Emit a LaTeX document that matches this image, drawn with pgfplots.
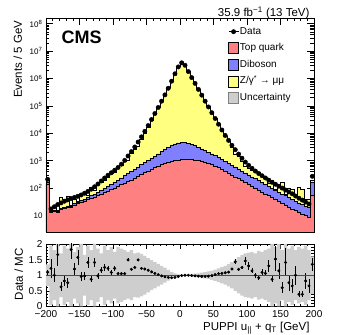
\documentclass[border=0pt]{standalone}
\usepackage{fontspec}
\setmainfont{Liberation Sans}
\usepackage{pgfplots}
\pgfplotsset{compat=1.18}
\usepackage{pgfplotstable}
\usepgfplotslibrary{fillbetween}

\definecolor{topcol}{RGB}{255,128,128}
\definecolor{dibcol}{RGB}{128,128,255}
\definecolor{dycol}{RGB}{255,255,128}
\definecolor{unccol}{RGB}{206,206,206}
\definecolor{oneline}{RGB}{255,0,0}

% x = left edge of the 5 GeV bin; the last row only closes the step at 200
% top, dib, dy: stacked MC components; data: events; r, rerr: data/MC; unc: MC band half width
\pgfplotstableread{
x    top   dib   dy       data     r     rerr  unc
-200 140   26    24       209      1.10  0.08  0.35
-195 12.6  1.2   0.5      17.4     1.22  0.30  0.95
-190 13.8  1.3   5.8      20.9     1.00  0.22  0.80
-185 12.6  1.2   1.3      25.1     1.66  0.35  1.00
-180 16.6  1.6   27.6     28.8     0.63  0.15  0.70
-175 18.2  1.8   20.4     33.1     0.82  0.18  0.95
-170 20.0  2.4   26.5     37.2     0.76  0.16  0.85
-165 19.1  1.8   2.0      41.7     1.82  0.30  1.00
-160 24.0  3.5   10.6     45.7     1.20  0.20  0.75
-155 26.9  4.0   1.0      50.1     1.57  0.24  0.90
-150 30.2  4.5   23.9     56.2     0.96  0.14  1.00
-145 33.9  5.9   26.1     64.6     0.98  0.13  0.65
-140 38.0  7.7   8.1      75.9     1.41  0.18  0.95
-135 42.7  9.8   52.2     91.2     0.87  0.10  0.80
-130 47.9  12.4  19.3     112      1.41  0.15  1.00
-125 53.7  17.1  73       141      0.98  0.09  0.85
-120 60.3  22.9  74       182      1.16  0.10  0.70
-115 67.6  30.1  90       234      1.25  0.10  0.95
-110 75.9  39    127      295      1.22  0.08  0.80
-105 87.1  48    198      363      1.09  0.07  0.90
-100 100   62    204      447      1.22  0.07  0.75
-95  115   80    341      562      1.05  0.06  0.90
-90  132   102   472      741      1.05  0.05  0.85
-85  151   131   693      1023     1.05  0.05  0.80
-80  174   165   654      1479     1.49  0.05  0.75
-75  200   207   1388     2138     1.19  0.03  0.80
-70  234   256   2040     3162     1.25  0.03  0.70
-65  269   320   2625     4786     1.49  0.03  0.72
-60  316   392   5373     7413     1.22  0.02  0.68
-55  363   488   8944     11750    1.20  0.02  0.62
-50  417   606   15420    19050    1.16  0.02  0.55
-45  479   751   27280    31620    1.11  0.02  0.48
-40  550   929   48070    52480    1.06  0.02  0.42
-35  631   1147  83530    87100    1.02  0.02  0.36
-30  708   1430  148900   147900   0.98  0.01  0.30
-25  794   1776  261600   251200   0.95  0.01  0.24
-20  871   2149  466900   436500   0.93  0.01  0.17
-15  955   2593  859500   794300   0.92  0.01  0.11
-10  1023  3051  1588000  1479000  0.93  0.01  0.06
-5   1072  3395  2738000  2630000  0.96  0.01  0.03
0    1096  3475  3745000  3715000  0.99  0.01  0.02
5    1122  3449  3015000  3020000  1.00  0.01  0.02
10   1122  3243  1774000  1778000  1.00  0.01  0.03
15   1096  2885  1078000  1072000  0.99  0.01  0.04
20   1072  2476  670700   660700   0.98  0.01  0.05
25   1023  2067  407300   398100   0.97  0.01  0.06
30   955   1737  253000   245500   0.96  0.01  0.08
35   871   1473  151800   147900   0.96  0.01  0.10
40   794   1248  91980    91200    0.97  0.01  0.12
45   708   1070  55020    56230    0.99  0.01  0.15
50   631   918   32440    34670    1.02  0.01  0.18
55   550   768   19050    21380    1.05  0.01  0.22
60   479   643   11330    13180    1.06  0.01  0.26
65   417   538   6754     8318     1.08  0.02  0.30
70   355   458   4187     5495     1.10  0.02  0.36
75   302   390   2335     3631     1.20  0.03  0.42
80   257   332   1169     2512     1.43  0.08  0.50
85   224   277   958      1738     1.19  0.05  0.58
90   191   226   567      1230     1.25  0.06  0.65
95   162   193   256      891      1.46  0.12  0.70
100  138   164   218      676      1.30  0.12  0.72
105  117   140   203      525      1.14  0.08  0.75
110  100   119   198      417      1.00  0.08  0.70
115  85.1  101   182      339      0.92  0.08  0.78
120  72.4  86    101      282      1.09  0.10  0.75
125  61.7  73    86       234      1.06  0.10  0.80
130  52.5  62    35       195      1.30  0.20  0.85
135  44.7  53    88       162      0.87  0.10  1.00
140  38.0  45    7.6      138      1.52  0.40  0.90
145  32.4  38    32       117      1.14  0.25  1.00
150  27.5  33    107      100      0.60  0.18  0.80
155  23.4  29    7.9      85.1     1.41  0.45  1.00
160  20.0  24.7  50.6     72.4     0.76  0.25  0.85
165  17.4  21.5  54       61.7     0.66  0.22  0.95
170  15.1  18    18.2     51.3     1.00  0.30  0.80
175  13.2  15.6  80       42.7     0.39  0.10  0.90
180  11.5  13.6  68       36.3     0.39  0.10  0.85
185  10.0  11.9  15.8     30.9     0.82  0.25  0.95
190  8.9   10.2  20.7     26.3     0.66  0.22  0.80
195  56.2  102   42       269      1.35  0.20  0.60
200  56.2  102   42       269      1.35  0.20  0.60
}\bins

\begin{document}
\begin{tikzpicture}
\pgfplotsset{
  cmsaxis/.style={
    scale only axis, width=268pt,
    xmin=-200, xmax=200,
    tick align=inside, xtick pos=both, ytick pos=both,
    axis line style={line width=0.6pt},
    every tick/.style={black, line width=0.5pt},
    xtick={-200,-150,...,200}, minor x tick num=4,
    /pgf/number format/assume math mode=true,
    tick label style={font=\fontsize{10}{12}\selectfont},
  },
}
% upper panel: stacked MC and data
\begin{axis}[cmsaxis, name=main, at={(0,0)}, anchor=south west, height=214pt,
  ymode=log, ymin=2.5, ymax=1.6e8,
  xticklabels={},
  ytick={10,100,1000,1e4,1e5,1e6,1e7,1e8},
  yticklabels={10,10\textsuperscript{2},10\textsuperscript{3},10\textsuperscript{4},10\textsuperscript{5},10\textsuperscript{6},10\textsuperscript{7},10\textsuperscript{8}},
  yticklabel style={font=\fontsize{8}{9}\selectfont},
  major tick length=7pt, minor tick length=3.5pt,
  legend style={at={(rel axis cs:0.679,0.965)}, anchor=north west,
    draw=none, fill=none, inner sep=0pt, row sep=4.6pt,
    font=\fontsize{10}{12}\selectfont,
    nodes={inner sep=1pt, text height=7.5pt, text depth=2.5pt}},
  legend cell align=left,
]
\addplot[const plot, fill=dycol, draw=black, line width=0.6pt, forget plot]
  table[x=x, y expr=\thisrow{top}+\thisrow{dib}+\thisrow{dy}] {\bins} \closedcycle;
\addplot[const plot, fill=dibcol, draw=black, line width=0.6pt, forget plot]
  table[x=x, y expr=\thisrow{top}+\thisrow{dib}] {\bins} \closedcycle;
\addplot[const plot, fill=topcol, draw=black, line width=0.6pt, forget plot]
  table[x=x, y=top] {\bins} \closedcycle;
\addplot[only marks, mark=*, mark size=2.2pt, black, forget plot,
  skip coords between index={80}{81}]
  table[x expr=\thisrow{x}+2.5, y=data] {\bins};

\addlegendimage{legend image code/.code={
  \draw[black, line width=0.8pt] (0pt,0pt) -- (10pt,0pt);
  \fill[black] (5pt,0pt) circle (2.2pt);}}
\addlegendentry{Data}
\addlegendimage{legend image code/.code={
  \draw[black, line width=0.6pt, fill=topcol] (0pt,-5.5pt) rectangle (10pt,5.5pt);}}
\addlegendentry{Top quark}
\addlegendimage{legend image code/.code={
  \draw[black, line width=0.6pt, fill=dibcol] (0pt,-5.5pt) rectangle (10pt,5.5pt);}}
\addlegendentry{Diboson}
\addlegendimage{legend image code/.code={
  \draw[black, line width=0.6pt, fill=dycol] (0pt,-5.5pt) rectangle (10pt,5.5pt);}}
\addlegendentry{Z/γ\textsuperscript{*} → μμ}
\addlegendimage{legend image code/.code={
  \draw[gray, line width=0.6pt, fill=unccol] (0pt,-5.5pt) rectangle (10pt,5.5pt);}}
\addlegendentry{Uncertainty}
\end{axis}

% lower panel: data / MC
\begin{axis}[cmsaxis, name=ratio, at={(0,-12pt)}, anchor=north west, height=62.5pt,
  ymin=0, ymax=2,
  ytick={0,0.5,1,1.5,2}, yticklabels={0,0.5,1,1.5,2}, minor y tick num=4,
  xticklabels={−200,−150,−100,−50,0,50,100,150,200},
  major tick length=5pt, minor tick length=2.5pt,
]
\addplot[name path=up, const plot, draw=none, forget plot] table[x=x, y expr=1+\thisrow{unc}] {\bins};
\addplot[name path=lo, const plot, draw=none, forget plot] table[x=x, y expr=1-\thisrow{unc}] {\bins};
\addplot[fill=unccol, draw=none, forget plot] fill between[of=up and lo];
\addplot[black, only marks, mark=*, mark size=1.3pt,
  skip coords between index={80}{81},
  error bars/.cd, y dir=both, y explicit, x dir=both, x fixed=1.5,
  error bar style={line width=0.6pt}, error mark=none]
  table[x expr=\thisrow{x}+2.5, y=r, y error=rerr] {\bins};
\draw[oneline, line width=1pt] (axis cs:-200,1) -- (axis cs:200,1);
\end{axis}

\node[anchor=base west, font=\bfseries\fontsize{18}{20}\selectfont]
  at ([xshift=12pt,yshift=-25pt]main.north west) {CMS};
\node[anchor=base east, font=\fontsize{11.5}{13}\selectfont]
  at ([xshift=-1pt,yshift=1.5pt]main.north east) {35.9 fb\textsuperscript{−1} (13 TeV)};
\node[rotate=90, anchor=base east, font=\fontsize{11.5}{13}\selectfont]
  at ([xshift=-24pt,yshift=1pt]main.north west) {Events / 5 GeV};
\node[rotate=90, anchor=base east, font=\fontsize{11.5}{13}\selectfont]
  at ([xshift=-23pt,yshift=-1pt]ratio.north west) {Data / MC};
\node[anchor=base east, font=\fontsize{11.5}{13}\selectfont]
  at ([xshift=-1pt,yshift=-24pt]ratio.south east) {PUPPI u\textsubscript{||} + q\textsubscript{T} [GeV]};
\pgfresetboundingbox
\path[use as bounding box] (-46pt,-103pt) rectangle (303pt,232pt);
\end{tikzpicture}
\end{document}
